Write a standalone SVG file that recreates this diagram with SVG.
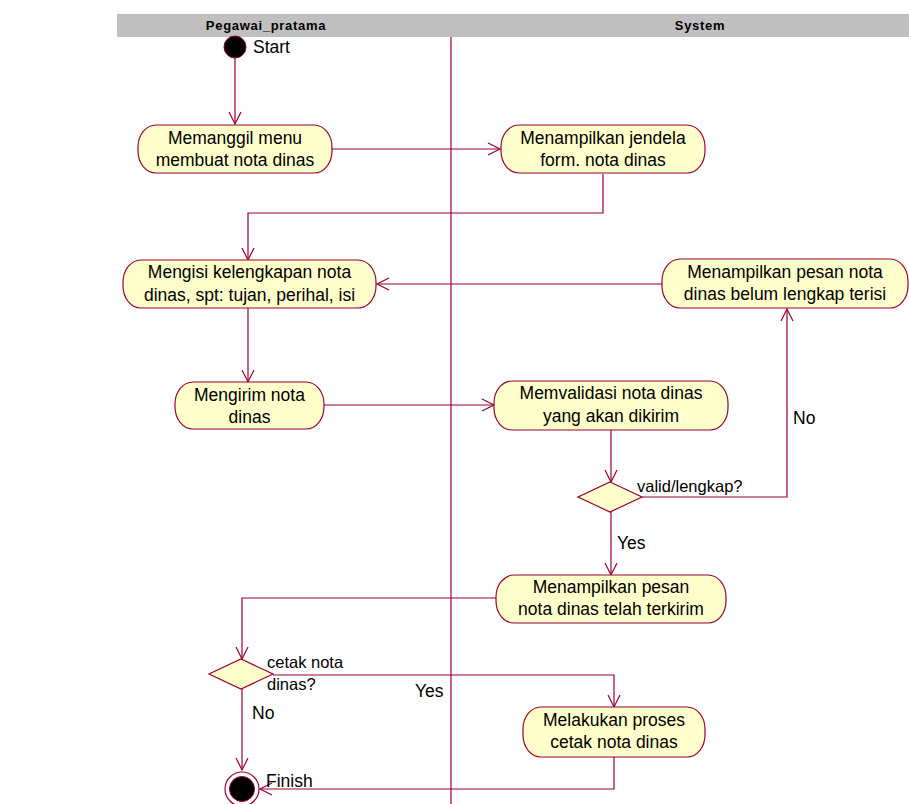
<svg xmlns="http://www.w3.org/2000/svg" width="909" height="804" viewBox="0 0 909 804">
  <style>
    .lane { fill: #c0c0c0; }
    .lanet { font-family: "Liberation Sans", Arial, sans-serif; font-size: 13px; font-weight: bold; letter-spacing: 0.7px; fill: #000; text-anchor: middle; }
    .act { fill: #ffffcc; stroke: #990033; stroke-width: 1.2; }
    .dec { fill: #ffffcc; stroke: #990033; stroke-width: 1.2; }
    .t { font-family: "Liberation Sans", Arial, sans-serif; font-size: 17.5px; fill: #000; text-anchor: middle; }
    .lbl { font-family: "Liberation Sans", Arial, sans-serif; font-size: 17.5px; fill: #000; }
    .lbls { font-family: "Liberation Sans", Arial, sans-serif; font-size: 16.5px; fill: #000; }
    .ea { fill: none; stroke: #990033; stroke-width: 1.2; marker-end: url(#open); }
    .div { stroke: #990033; stroke-width: 1.2; }
  </style>
  <defs>
    <marker id="open" markerUnits="userSpaceOnUse" markerWidth="16" markerHeight="16" refX="13" refY="7" orient="auto">
      <path d="M1,1 L13,7 L1,13" fill="none" stroke="#990033" stroke-width="1.2"/>
    </marker>
  </defs>
  <rect width="909" height="804" fill="#ffffff"/>

  <!-- swimlane headers -->
  <g id="lanes">
    <rect class="lane" x="117" y="14" width="792" height="23"/>
    <text class="lanet" x="266" y="30">Pegawai_pratama</text>
    <text class="lanet" x="700" y="30">System</text>
    <line class="div" x1="451" y1="37" x2="451" y2="804"/>
  </g>

  <!-- connectors -->
  <g id="connectors">
    <path class="ea" d="M235,58 V124"/>
    <path class="ea" d="M332,149 H500"/>
    <path class="ea" d="M603,174 V213 H248 V260"/>
    <path class="ea" d="M662,284 H377"/>
    <path class="ea" d="M248,308 V382"/>
    <path class="ea" d="M324,405 H494"/>
    <path class="ea" d="M611,430 V482"/>
    <path class="ea" d="M642,497 H787 V309"/>
    <path class="ea" d="M611,512 V575"/>
    <path class="ea" d="M496,598 H242 V659"/>
    <path class="ea" d="M273,675 H614 V707"/>
    <path class="ea" d="M242,689 V770"/>
    <path class="ea" d="M614,757 V789 H260"/>
  </g>

  <!-- start / finish -->
  <g id="start">
    <circle cx="235" cy="47" r="11" fill="#000" stroke="#990033" stroke-width="1"/>
    <text class="lbl" x="253" y="53">Start</text>
  </g>
  <g id="finish">
    <circle cx="242" cy="789" r="17" fill="#fff" stroke="#990033" stroke-width="1.2"/>
    <circle cx="242" cy="789" r="12.5" fill="#000" stroke="#990033" stroke-width="1"/>
    <text class="lbl" x="266" y="787">Finish</text>
  </g>

  <!-- activities -->
  <g id="memanggil">
    <rect class="act" x="138" y="125" width="194" height="48" rx="18" ry="22"/>
    <text class="t" x="235" y="144">Memanggil menu</text>
    <text class="t" x="235" y="166">membuat nota dinas</text>
  </g>
  <g id="jendela">
    <rect class="act" x="501" y="125" width="204" height="48" rx="18" ry="22"/>
    <text class="t" x="603" y="144">Menampilkan jendela</text>
    <text class="t" x="603" y="166">form. nota dinas</text>
  </g>
  <g id="mengisi">
    <rect class="act" x="123" y="260" width="253" height="48" rx="18" ry="22"/>
    <text class="t" x="249.5" y="278">Mengisi kelengkapan nota</text>
    <text class="t" x="249.5" y="301">dinas, spt: tujan, perihal, isi</text>
  </g>
  <g id="belum-lengkap">
    <rect class="act" x="662" y="259" width="246" height="49" rx="18" ry="22"/>
    <text class="t" x="785" y="278">Menampilkan pesan nota</text>
    <text class="t" x="785" y="300">dinas belum lengkap terisi</text>
  </g>
  <g id="mengirim">
    <rect class="act" x="175" y="382" width="149" height="47" rx="18" ry="22"/>
    <text class="t" x="249.5" y="401">Mengirim nota</text>
    <text class="t" x="249.5" y="423">dinas</text>
  </g>
  <g id="memvalidasi">
    <rect class="act" x="494" y="381" width="234" height="49" rx="18" ry="22"/>
    <text class="t" x="611" y="399">Memvalidasi nota dinas</text>
    <text class="t" x="611" y="422">yang akan dikirim</text>
  </g>
  <g id="cek-valid">
    <polygon class="dec" points="610,482 642,497 610,512 578,497"/>
    <text class="lbls" x="637" y="492">valid/lengkap?</text>
    <text class="lbl" x="793" y="424">No</text>
    <text class="lbl" x="617" y="549">Yes</text>
  </g>
  <g id="terkirim">
    <rect class="act" x="496" y="575" width="230" height="48" rx="18" ry="22"/>
    <text class="t" x="611" y="593">Menampilkan pesan</text>
    <text class="t" x="611" y="615">nota dinas telah terkirim</text>
  </g>
  <g id="cek-cetak">
    <polygon class="dec" points="241,659 273,674 241,689 209,674"/>
    <text class="lbls" x="267" y="668">cetak nota</text>
    <text class="lbls" x="267" y="690">dinas?</text>
    <text class="lbl" x="415" y="697">Yes</text>
    <text class="lbl" x="252" y="719">No</text>
  </g>
  <g id="cetak">
    <rect class="act" x="523" y="707" width="182" height="50" rx="18" ry="22"/>
    <text class="t" x="614" y="726">Melakukan proses</text>
    <text class="t" x="614" y="748">cetak nota dinas</text>
  </g>
</svg>
